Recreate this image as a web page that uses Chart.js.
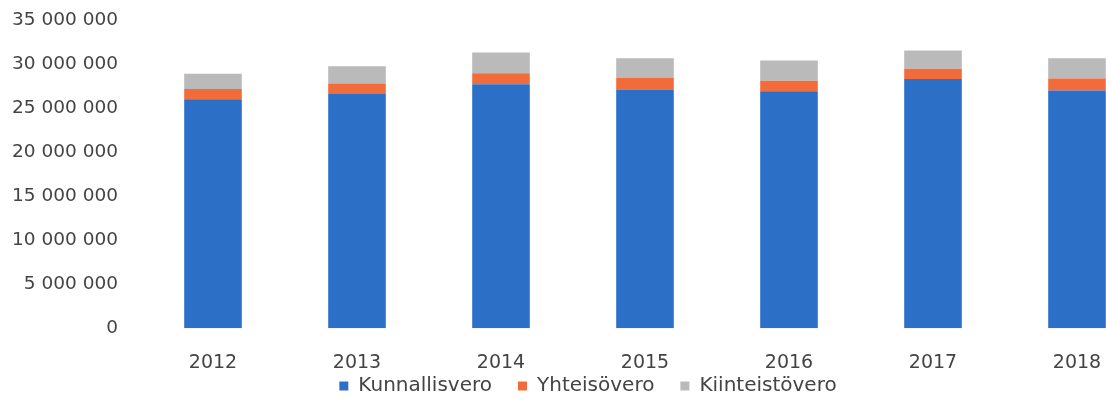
<!DOCTYPE html>
<html>
<head>
<meta charset="utf-8">
<script src="https://cdn.jsdelivr.net/npm/chart.js@4.4.1/dist/chart.umd.min.js"></script>
<style>
  html, body { margin: 0; padding: 0; background: #ffffff; overflow: hidden; width: 1106px; height: 403px; }
  #wrap { position: absolute; left: 0; top: 0; width: 1176px; height: 403px; }
</style>
</head>
<body>
<div id="wrap"><canvas id="c" width="1176" height="403"></canvas></div>
<script>
const years = ['2012', '2013', '2014', '2015', '2016', '2017', '2018'];
const kunnallisvero = [26000000, 26600000, 27700000, 27100000, 26900000, 28300000, 27000000];
const yhteisovero   = [1150000, 1200000, 1250000, 1300000, 1200000, 1150000, 1350000];
const kiinteistovero = [1750000, 1950000, 2350000, 2250000, 2300000, 2100000, 2300000];
const yTicks = [0, 5000000, 10000000, 15000000, 20000000, 25000000, 30000000, 35000000];

const textColor = '#444444';
const fmt = v => String(v).replace(/\B(?=(\d{3})+(?!\d))/g, ' ');

// place the legend row under the year labels, centred like the reference
const legendPlace = {
  id: 'legendPlace',
  afterLayout(chart) {
    const lg = chart.legend;
    if (!lg) return;
    lg.top = 350;
    lg.bottom = chart.height;
    lg.height = lg.bottom - lg.top;
    lg.left = 27;
    lg.right = 1149;
    lg.width = lg.right - lg.left;
  }
};

new Chart(document.getElementById('c'), {
  type: 'bar',
  data: {
    labels: years,
    datasets: [
      { label: 'Kunnallisvero', data: kunnallisvero, backgroundColor: '#2b70c6' },
      { label: 'Yhteisövero', data: yhteisovero, backgroundColor: '#f26b3a' },
      { label: 'Kiinteistövero', data: kiinteistovero, backgroundColor: '#bababa' }
    ]
  },
  plugins: [legendPlace],
  options: {
    responsive: false,
    animation: false,
    devicePixelRatio: 1,
    layout: { padding: { top: 20, right: 27, bottom: -42, left: 0 } },
    datasets: { bar: { categoryPercentage: 1.0, barPercentage: 0.4 } },
    plugins: {
      title: { display: false },
      tooltip: { enabled: false },
      legend: {
        position: 'bottom',
        labels: {
          color: textColor,
          font: { family: 'DejaVu Sans', size: 20 },
          boxWidth: 9,
          boxHeight: 9,
          padding: 26
        }
      }
    },
    scales: {
      x: {
        stacked: true,
        grid: { display: false },
        border: { display: false },
        ticks: { color: textColor, font: { family: 'DejaVu Sans', size: 19 }, padding: 15, maxRotation: 0, autoSkip: false }
      },
      y: {
        stacked: true,
        min: 0,
        max: 35000000,
        grid: { display: false },
        border: { display: false },
        afterBuildTicks: s => { s.ticks = yTicks.map(v => ({ value: v })); },
        ticks: { color: textColor, font: { family: 'DejaVu Sans', size: 18.5 }, padding: 15, callback: v => fmt(v) },
        afterFit: s => { s.width = 141; s.paddingTop = 11; s.paddingBottom = 0; }
      }
    }
  }
});
</script>
</body>
</html>
